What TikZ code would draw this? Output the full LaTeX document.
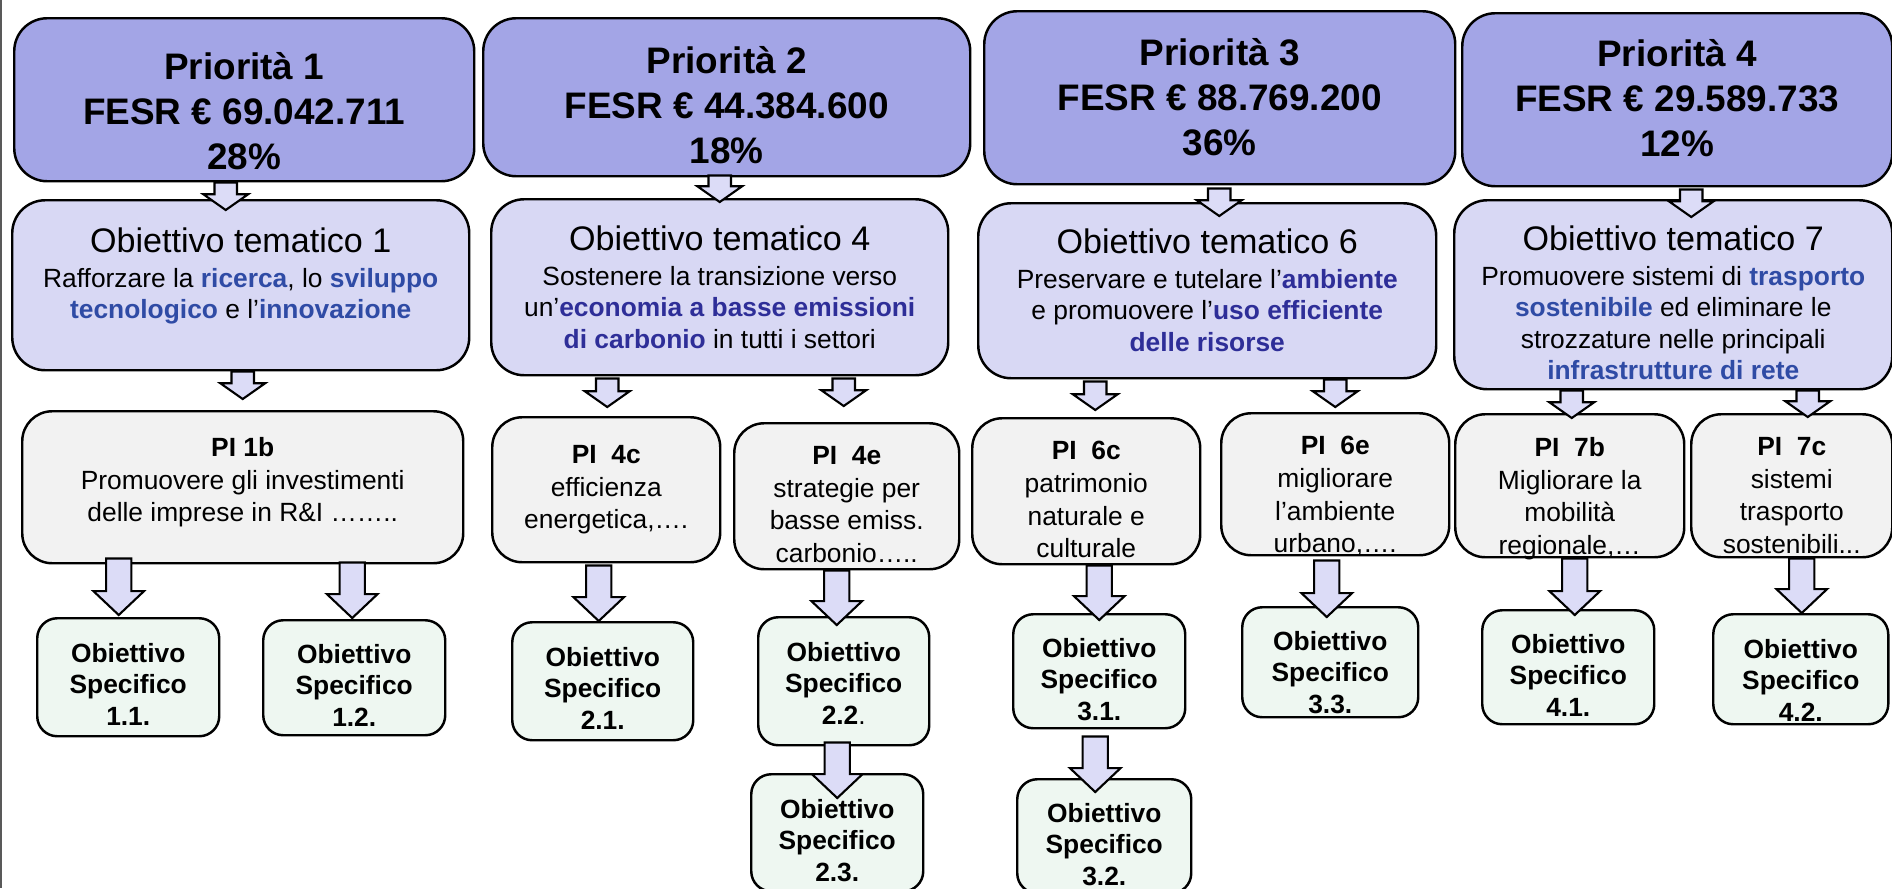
\documentclass[tikz,border=0pt]{standalone}
\usepackage{fontspec}
\setmainfont{Liberation Sans}
\usetikzlibrary{calc}

\definecolor{prioblue}{RGB}{163,165,230}
\definecolor{otlilac}{RGB}{216,216,244}
\definecolor{pigrey}{RGB}{242,242,242}
\definecolor{osgreen}{RGB}{238,247,241}
\definecolor{arrlilac}{RGB}{220,220,247}
\definecolor{kwblue}{RGB}{47,75,165}
\definecolor{kwnavy}{RGB}{46,46,152}

\newcommand{\kw}[1]{\textbf{\color{kwblue}#1}}
\newcommand{\kwn}[1]{\textbf{\color{kwnavy}#1}}
\newcommand{\ottitle}[1]{{\fontsize{9.7pt}{11pt}\selectfont #1}}

% box content: width, height, top gap, text
\newcommand{\boxtxt}[4]{\begin{minipage}[c][#2][t]{#1}\vspace*{#3}\centering #4\end{minipage}}

% block arrow: shaft half width, head half width, head length, start, tip
\newcommand{\fatarrow}[5]{\draw[fatarr] let \p1=#4, \p2=#5 in
  (\x2-#1,\y1) -- (\x2+#1,\y1) -- (\x2+#1,\y2+#3) -- (\x2+#2,\y2+#3) -- (\x2,\y2)
  -- (\x2-#2,\y2+#3) -- (\x2-#1,\y2+#3) -- cycle;}
\newcommand{\smallarr}[2]{\fatarrow{3.2pt}{6.4pt}{4.5pt}{#1}{#2}}
\newcommand{\bigarr}[2]{\fatarrow{3.6pt}{7.2pt}{6.8pt}{#1}{#2}}

\begin{document}
\begin{tikzpicture}[x=1cm, y=-1cm,
    boxbase/.style={draw, line width=0.7pt, inner sep=0pt, anchor=north west},
    priobox/.style={boxbase, fill=prioblue, rounded corners=0.33cm, font=\bfseries\fontsize{10.5pt}{12.8pt}\selectfont},
    otbox/.style={boxbase, fill=otlilac, rounded corners=0.33cm, font=\fontsize{7.5pt}{9pt}\selectfont},
    pibox/.style={boxbase, fill=pigrey, rounded corners=0.3cm, font=\fontsize{7.5pt}{9.3pt}\selectfont},
    osbox/.style={boxbase, fill=osgreen, rounded corners=0.2cm, font=\bfseries\fontsize{7.5pt}{9pt}\selectfont},
    fatarr/.style={draw, line width=0.6pt, fill=arrlilac, line join=miter}]
  \useasboundingbox (0,0) rectangle (18.92,8.88);
  \draw[line width=0.6pt, black!65] (0.01,0) -- (0.01,8.88);

  % priorities
  \node[priobox] (p1) at (0.13,0.17) {\boxtxt{4.60cm}{1.63cm}{0.34cm}{Priorità 1\\FESR € 69.042.711\\28\%}};
  \node[priobox] (p2) at (4.82,0.17) {\boxtxt{4.87cm}{1.58cm}{0.28cm}{Priorità 2\\FESR € 44.384.600\\18\%}};
  \node[priobox] (p3) at (9.83,0.10) {\boxtxt{4.71cm}{1.73cm}{0.27cm}{Priorità 3\\FESR € 88.769.200\\36\%}};
  \node[priobox] (p4) at (14.61,0.12) {\boxtxt{4.30cm}{1.73cm}{0.26cm}{Priorità 4\\FESR € 29.589.733\\12\%}};

  % thematic objectives
  \node[otbox] (ot1) at (0.11,1.99) {\boxtxt{4.57cm}{1.70cm}{0.28cm}{\ottitle{Obiettivo tematico 1}\\[0.7pt]
    Rafforzare la \kw{ricerca}, lo \kw{sviluppo}\\\kw{tecnologico} e l’\kw{innovazione}}};
  \node[otbox] (ot4) at (4.90,1.98) {\boxtxt{4.57cm}{1.76cm}{0.27cm}{\ottitle{Obiettivo tematico 4}\\[0.7pt]
    Sostenere la transizione verso\\un’\kwn{economia a basse emissioni}\\\kwn{di carbonio} in tutti i settori}};
  \node[otbox] (ot6) at (9.77,2.02) {\boxtxt{4.58cm}{1.75cm}{0.26cm}{\ottitle{Obiettivo tematico 6}\\[0.7pt]
    Preservare e tutelare l’\kwn{ambiente}\\e promuovere l’\kwn{uso efficiente}\\\kwn{delle risorse}}};
  \node[otbox] (ot7) at (14.53,1.99) {\boxtxt{4.38cm}{1.89cm}{0.26cm}{\ottitle{Obiettivo tematico 7}\\[0.7pt]
    Promuovere sistemi di \kw{trasporto}\\\kw{sostenibile} ed eliminare le\\strozzature nelle principali\\\kw{infrastrutture di rete}}};

  % investment priorities
  \node[pibox] (pi1b) at (0.21,4.10) {\boxtxt{4.41cm}{1.52cm}{0.26cm}{\textbf{PI 1b}\\Promuovere gli investimenti\\delle imprese in R\&I ……..}};
  \node[pibox] (pi4c) at (4.91,4.16) {\boxtxt{2.28cm}{1.45cm}{0.28cm}{\textbf{PI\ \ 4c}\\efficienza\\energetica,….}};
  \node[pibox] (pi4e) at (7.33,4.22) {\boxtxt{2.25cm}{1.46cm}{0.23cm}{\textbf{PI\ \ 4e}\\strategie per\\basse emiss.\\carbonio…..}};
  \node[pibox] (pi6c) at (9.71,4.17) {\boxtxt{2.28cm}{1.46cm}{0.23cm}{\textbf{PI\ \ 6c}\\patrimonio\\naturale e\\culturale}};
  \node[pibox] (pi6e) at (12.20,4.12) {\boxtxt{2.28cm}{1.42cm}{0.23cm}{\textbf{PI\ \ 6e}\\migliorare\\l’ambiente\\urbano,….}};
  \node[pibox] (pi7b) at (14.54,4.13) {\boxtxt{2.29cm}{1.43cm}{0.23cm}{\textbf{PI\ \ 7b}\\Migliorare la\\mobilità\\regionale,…}};
  \node[pibox] (pi7c) at (16.90,4.13) {\boxtxt{2.01cm}{1.43cm}{0.23cm}{\textbf{PI\ \ 7c}\\sistemi\\trasporto\\sostenibili...}};

  % specific objectives
  \node[osbox] (os11) at (0.36,6.17) {\boxtxt{1.82cm}{1.18cm}{0.25cm}{Obiettivo\\Specifico\\1.1.}};
  \node[osbox] (os12) at (2.62,6.19) {\boxtxt{1.82cm}{1.15cm}{0.24cm}{Obiettivo\\Specifico\\1.2.}};
  \node[osbox] (os21) at (5.11,6.21) {\boxtxt{1.81cm}{1.18cm}{0.25cm}{Obiettivo\\Specifico\\2.1.}};
  \node[osbox] (os22) at (7.57,6.16) {\boxtxt{1.71cm}{1.28cm}{0.25cm}{Obiettivo\\Specifico\\2.2{\mdseries .}}};
  \node[osbox] (os23) at (7.50,7.73) {\boxtxt{1.72cm}{1.17cm}{0.25cm}{Obiettivo\\Specifico\\2.3.}};
  \node[osbox] (os31) at (10.12,6.13) {\boxtxt{1.72cm}{1.14cm}{0.24cm}{Obiettivo\\Specifico\\3.1.}};
  \node[osbox] (os32) at (10.16,7.78) {\boxtxt{1.74cm}{1.14cm}{0.24cm}{Obiettivo\\Specifico\\3.2.}};
  \node[osbox] (os33) at (12.41,6.06) {\boxtxt{1.76cm}{1.10cm}{0.24cm}{Obiettivo\\Specifico\\3.3.}};
  \node[osbox] (os41) at (14.81,6.09) {\boxtxt{1.72cm}{1.14cm}{0.24cm}{Obiettivo\\Specifico\\4.1.}};
  \node[osbox] (os42) at (17.12,6.13) {\boxtxt{1.75cm}{1.10cm}{0.25cm}{Obiettivo\\Specifico\\4.2.}};

  % arrows
  \smallarr{(p1.south)}{($(ot1.north)+(-0.15,0.11)$)}
  \smallarr{($(p2.south)+(0,-0.02)$)}{($(ot4.north)+(0,0.04)$)}
  \smallarr{($(p3.south)+(0,0.03)$)}{($(ot6.north)+(0.12,0.14)$)}
  \smallarr{($(p4.south)+(0,0.02)$)}{($(ot7.north)+(0.18,0.18)$)}
  \smallarr{(ot1.south)}{($(pi1b.north)+(0,-0.11)$)}
  \smallarr{($(ot4.south)+(0,0.02)$)}{($(pi4c.north)+(0.01,-0.09)$)}
  \smallarr{($(ot4.south)+(0,0.02)$)}{($(pi4e.north)+(-0.03,-0.16)$)}
  \smallarr{($(ot6.south)+(0,0.02)$)}{($(pi6c.north)+(0.09,-0.07)$)}
  \smallarr{(ot6.south)}{($(pi6e.north)+(0,-0.05)$)}
  \smallarr{(ot7.south)}{($(pi7b.north)+(0.02,0.05)$)}
  \smallarr{(ot7.south)}{($(pi7c.north)+(0.16,0.04)$)}

  \bigarr{($(pi1b.south)+(0,-0.06)$)}{($(os11.north)+(-0.095,-0.02)$)}
  \bigarr{($(pi1b.south)+(0,-0.02)$)}{($(os12.north)+(-0.02,-0.01)$)}
  \bigarr{($(pi4c.south)+(0,0.02)$)}{($(os21.north)+(-0.04,0)$)}
  \bigarr{(pi4e.south)}{($(os22.north)+(-0.07,0.09)$)}
  \bigarr{($(os22.south)+(0,-0.04)$)}{($(os23.north)+(0,0.25)$)}
  \bigarr{(pi6c.south)}{($(os31.north)+(0,0.07)$)}
  \bigarr{($(os31.south)+(0,0.07)$)}{($(os32.north)+(-0.09,0.14)$)}
  \bigarr{($(pi6e.south)+(0,0.04)$)}{($(os33.north)+(-0.035,0.11)$)}
  \bigarr{(pi7b.south)}{($(os41.north)+(0.065,0.06)$)}
  \bigarr{(pi7c.south)}{($(os42.north)+(0.01,0)$)}
\end{tikzpicture}
\end{document}
